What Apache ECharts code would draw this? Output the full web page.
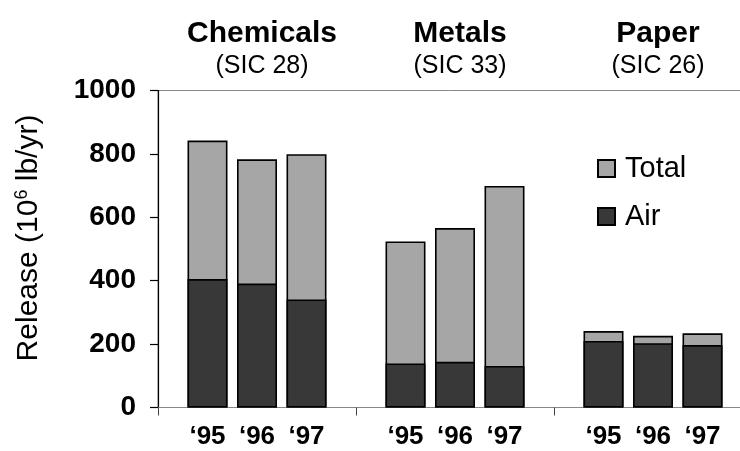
<!DOCTYPE html>
<html>
<head>
<meta charset="utf-8">
<script src="https://cdn.jsdelivr.net/npm/echarts@6/dist/echarts.min.js"></script>
<style>
html,body{margin:0;padding:0;background:#fff;}
#chart{width:740px;height:451px;}
</style>
</head>
<body>
<div id="chart"></div>
<script>
// ---- data ----
const groups = ['Chemicals', 'Metals', 'Paper'];
const sicCodes = ['(SIC 28)', '(SIC 33)', '(SIC 26)'];
const years = ['\u201895', '\u201896', '\u201897'];
const totalRelease = [842, 783, 799, 524, 566, 699, 241, 226, 234];
const airRelease = [405, 391, 341, 139, 144, 131, 210, 203, 197];
const yTickMin = 0, yTickMax = 1000, yTickStep = 200;

// ---- build category axis with gaps between groups ----
const categories = [''];
const totalData = [null];
const airData = [null];
groups.forEach((g, gi) => {
  years.forEach((y, yi) => {
    categories.push(y);
    totalData.push(totalRelease[gi * 3 + yi]);
    airData.push(airRelease[gi * 3 + yi]);
  });
  categories.push('');
  totalData.push(null);
  airData.push(null);
});

const FONT = '"Liberation Sans", Arial, sans-serif';
const gridLeft = 158, unit = 49.5;
const gridWidth = unit * (categories.length - 1);

const titles = groups.map((g, i) => ({
  text: g,
  subtext: sicCodes[i],
  left: gridLeft + unit * (2 + 4 * i),
  textAlign: 'center',
  top: 14,
  itemGap: 5,
  textStyle: { fontFamily: FONT, fontSize: 30, fontWeight: 'bold', color: '#000' },
  subtextStyle: { fontFamily: FONT, fontSize: 25, color: '#000' }
}));

const chart = echarts.init(document.getElementById('chart'), null, { renderer: 'canvas' });
chart.setOption({
  animation: false,
  backgroundColor: '#fff',
  title: titles,
  legend: {
    data: ['Total', 'Air'],
    orient: 'vertical',
    left: 597,
    top: 154,
    padding: 0,
    itemWidth: 17,
    itemHeight: 17,
    itemGap: 19,
    icon: 'rect',
    textStyle: { fontFamily: FONT, fontSize: 29, color: '#000', padding: [0, 0, 0, 5] },
    selectedMode: false
  },
  grid: {
    left: gridLeft,
    top: 90.5,
    width: gridWidth,
    height: 317,
    show: true,
    borderColor: '#888',
    borderWidth: 1,
    containLabel: false,
    outerBoundsMode: 'none'
  },
  xAxis: {
    type: 'category',
    data: categories,
    boundaryGap: false,
    axisLine: { lineStyle: { color: '#888', width: 1 } },
    axisTick: { show: true, length: 8, interval: (idx) => idx % 4 === 0, lineStyle: { color: '#444', width: 1 } },
    axisLabel: { interval: 0, margin: 16, fontFamily: FONT, fontSize: 26, fontWeight: 'bold', color: '#000' },
    splitLine: { show: false }
  },
  yAxis: {
    type: 'value',
    min: yTickMin,
    max: yTickMax,
    interval: yTickStep,
    axisLine: { show: true, lineStyle: { color: '#000', width: 1.2 } },
    axisTick: { show: true, length: 8, lineStyle: { color: '#000', width: 1.2 } },
    axisLabel: { margin: 22, fontFamily: FONT, fontSize: 28, fontWeight: 'bold', color: '#000', formatter: (v) => String(v) },
    splitLine: { show: false }
  },
  graphic: [{
    type: 'text',
    x: 29,
    y: 238,
    rotation: Math.PI / 2,
    style: {
      text: '{a|Release (10}{s|6}{a| lb/yr)}',
      align: 'center',
      verticalAlign: 'middle',
      rich: {
        a: { fontFamily: FONT, fontSize: 30, color: '#000' },
        s: { fontFamily: FONT, fontSize: 18, color: '#000', padding: [0, 0, 14, 0] }
      }
    }
  }],
  series: [
    {
      name: 'Total',
      type: 'bar',
      data: totalData,
      barWidth: 40,
      barGap: '-100%',
      itemStyle: { color: '#a6a6a6', borderColor: '#000', borderWidth: 1.6 }
    },
    {
      name: 'Air',
      type: 'bar',
      data: airData,
      barWidth: 40,
      barGap: '-100%',
      itemStyle: { color: '#383838', borderColor: '#000', borderWidth: 1.6 }
    }
  ]
});
</script>
</body>
</html>
